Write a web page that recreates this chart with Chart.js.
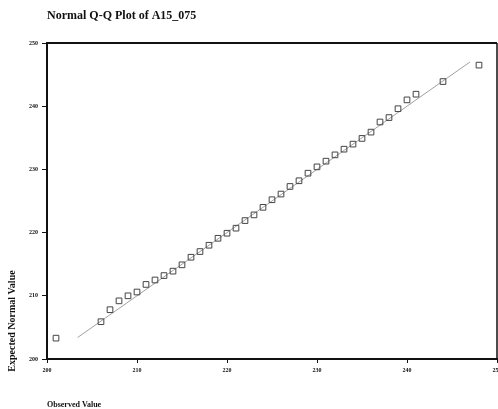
<!DOCTYPE html>
<html>
<head>
<meta charset="utf-8">
<title>Normal Q-Q Plot of A15_075</title>
<script src="https://cdn.jsdelivr.net/npm/chart.js@4/dist/chart.umd.min.js"></script>
<style>
  html, body { margin: 0; padding: 0; background: #fff; }
  canvas { display: block; }
</style>
</head>
<body>
<canvas id="qqChart" width="498" height="409"></canvas>
<script>
/* Normal Q-Q plot of A15_075 */

const observedValues = [201, 206, 207, 208, 209, 210, 211, 212, 213, 214, 215, 216, 217, 218, 219, 220, 221, 222, 223, 224,
  225, 226, 227, 228, 229, 230, 231, 232, 233, 234, 235, 236, 237, 238, 239, 240, 241, 244, 248];
const expectedValues = [203.3, 205.9, 207.8, 209.2, 210.0, 210.6, 211.8, 212.5, 213.2, 213.9, 214.9, 216.1, 217.0, 218.0, 219.1,
  219.9, 220.7, 221.9, 222.8, 224.0, 225.2, 226.1, 227.3, 228.2, 229.4, 230.4, 231.3, 232.3, 233.2, 234.0, 234.9, 235.9,
  237.5, 238.2, 239.6, 241.0, 241.9, 243.9, 246.5];
const xTickValues = [200, 210, 220, 230, 240, 250];
const yTickValues = [200, 210, 220, 230, 240, 250];
const refLineEnds = [203.4, 247];

const TITLE = "Normal Q-Q Plot of A15_075";
const X_TITLE = "Observed Value";
const Y_TITLE = "Expected Normal Value";
const SERIF = "'Liberation Serif', 'DejaVu Serif', serif";

const points = observedValues.map((x, i) => ({ x, y: expectedValues[i] }));
const refLine = refLineEnds.map((v) => ({ x: v, y: v }));

const tickFont = { family: SERIF, size: 6, weight: "bold" };

// frame + titles drawn around the plot area
const frameAndTitles = {
  id: "frameAndTitles",
  afterDraw(chart) {
    const { ctx, chartArea: a } = chart;
    ctx.save();
    ctx.strokeStyle = "#111";
    ctx.lineWidth = 2;
    ctx.beginPath();
    ctx.moveTo(a.left, a.top);
    ctx.lineTo(a.right, a.top);
    ctx.stroke();
    ctx.lineWidth = 1.5;
    ctx.beginPath();
    ctx.moveTo(a.right, a.top);
    ctx.lineTo(a.right, a.bottom);
    ctx.stroke();

    ctx.fillStyle = "#111";
    ctx.textBaseline = "middle";
    ctx.textAlign = "left";
    ctx.font = `bold 12px ${SERIF}`;
    ctx.fillText(TITLE, 47, 16);
    ctx.font = `bold 8px ${SERIF}`;
    ctx.fillText(X_TITLE, 47, 405);

    ctx.translate(12, 321);
    ctx.rotate(-Math.PI / 2);
    ctx.textAlign = "center";
    ctx.font = `bold 10px ${SERIF}`;
    ctx.fillText(Y_TITLE, 0, 0);
    ctx.restore();
  },
};

new Chart(document.getElementById("qqChart").getContext("2d"), {
  type: "scatter",
  data: {
    datasets: [
      {
        label: "Observed",
        data: points,
        pointStyle: "rect",
        pointRadius: 4,
        pointBorderWidth: 1,
        pointBorderColor: "#444",
        pointBackgroundColor: "rgba(255,255,255,0)",
        showLine: false,
      },
      {
        label: "Normal line",
        data: refLine,
        showLine: true,
        borderColor: "#a0a0a0",
        borderWidth: 1,
        pointRadius: 0,
      },
    ],
  },
  options: {
    responsive: false,
    animation: false,
    devicePixelRatio: 1,
    layout: { autoPadding: false, padding: { left: 0, right: 1, top: 43, bottom: 0 } },
    plugins: { legend: { display: false }, tooltip: { enabled: false }, title: { display: false } },
    scales: {
      x: {
        type: "linear",
        min: 200,
        max: 250,
        afterBuildTicks: (s) => { s.ticks = xTickValues.map((v) => ({ value: v })); },
        afterFit: (s) => { s.height = 50; s.paddingLeft = 0; s.paddingRight = 0; },
        border: { display: true, color: "#111", width: 2 },
        grid: { drawOnChartArea: false, drawTicks: true, tickLength: 4, color: "#111", lineWidth: 1 },
        ticks: { font: tickFont, color: "#111", padding: 4, maxRotation: 0 },
      },
      y: {
        type: "linear",
        min: 200,
        max: 250,
        afterBuildTicks: (s) => { s.ticks = yTickValues.map((v) => ({ value: v })); },
        afterFit: (s) => { s.width = 47; s.paddingTop = 0; s.paddingBottom = 0; },
        border: { display: true, color: "#111", width: 2 },
        grid: { drawOnChartArea: false, drawTicks: true, tickLength: 5, color: "#111", lineWidth: 1 },
        ticks: { font: tickFont, color: "#111", padding: 4 },
      },
    },
  },
  plugins: [frameAndTitles],
});
</script>
</body>
</html>
